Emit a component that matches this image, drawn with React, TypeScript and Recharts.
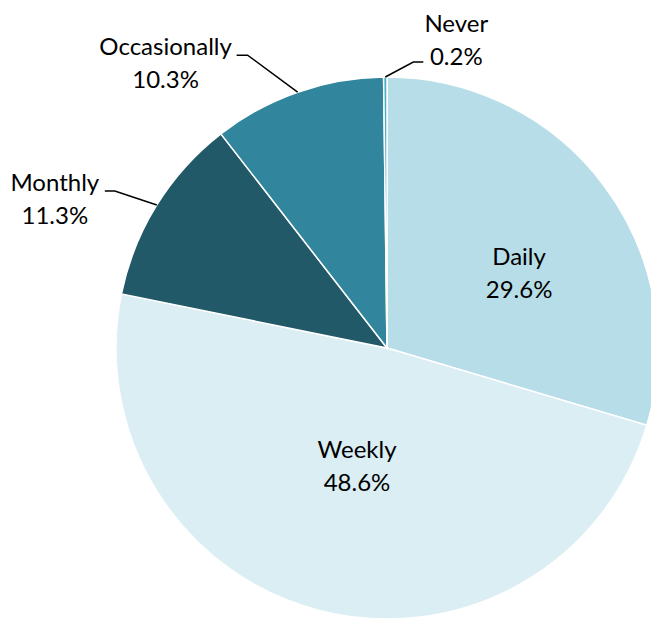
import { PieChart, Pie, Cell } from "recharts";

const categories = ["Daily", "Weekly", "Monthly", "Occasionally", "Never"];
const shares = [29.6, 48.6, 11.3, 10.3, 0.2];
const colors = ["#B7DDE8", "#DAEEF3", "#215968", "#31859C", "#4BACC6"];

// label placement: inside slices use a radius factor, outside ones an elbow offset
const labelLayout = [
  { inside: true, r: 0.608, base: 15.5 },
  { inside: true, r: 0.456, base: -10 },
  { inside: false, elbow: [-42, -14], run: -10, textDx: -50, base: 0 },
  { inside: false, elbow: [-50, -37], run: -11, textDx: -71, base: 0 },
  { inside: false, elbow: [28, -15], run: 10, textDx: 33, base: -30 },
];

const data = categories.map((name, i) => ({ name, value: shares[i] }));

const RAD = Math.PI / 180;
const FONT = "Lato, 'Open Sans', sans-serif";
const LINE = 33;

const renderLabel = (props: any) => {
  const { cx, cy, midAngle, outerRadius, index } = props;
  const lay: any = labelLayout[index];
  const cos = Math.cos(-midAngle * RAD);
  const sin = Math.sin(-midAngle * RAD);
  const pct = shares[index].toFixed(1) + "%";
  if (lay.inside) {
    const x = cx + outerRadius * lay.r * cos;
    const y = cy + outerRadius * lay.r * sin;
    return (
      <text x={x} y={y} textAnchor="middle" fill="#000" fontFamily={FONT} fontSize={24}>
        <tspan x={x} y={y + lay.base}>{categories[index]}</tspan>
        <tspan x={x} y={y + lay.base + LINE}>{pct}</tspan>
      </text>
    );
  }
  const sx = cx + outerRadius * cos;
  const sy = cy + outerRadius * sin;
  const ex = sx + lay.elbow[0];
  const ey = sy + lay.elbow[1];
  const tx = ex + lay.run;
  const textX = tx + lay.textDx;
  return (
    <g>
      <path d={`M${sx},${sy}L${ex},${ey}L${tx},${ey}`} stroke="#000" strokeWidth={1.5} fill="none" />
      <text x={textX} y={ey} textAnchor="middle" fill="#000" fontFamily={FONT} fontSize={24}>
        <tspan x={textX} y={ey + lay.base}>{categories[index]}</tspan>
        <tspan x={textX} y={ey + lay.base + LINE}>{pct}</tspan>
      </text>
    </g>
  );
};

export default function App() {
  return (
    <div style={{ position: "absolute", left: 0, top: 0, background: "#fff" }}>
      <PieChart width={651} height={619} margin={{ top: 0, right: 0, bottom: 0, left: 0 }}>
        <Pie
          data={data}
          dataKey="value"
          nameKey="name"
          cx={387}
          cy={348}
          outerRadius={271}
          startAngle={90}
          endAngle={-270}
          stroke="#fff"
          strokeWidth={1.5}
          label={renderLabel}
          labelLine={false}
          isAnimationActive={false}
        >
          {data.map((d, i) => (
            <Cell key={d.name} fill={colors[i]} />
          ))}
        </Pie>
      </PieChart>
    </div>
  );
}
